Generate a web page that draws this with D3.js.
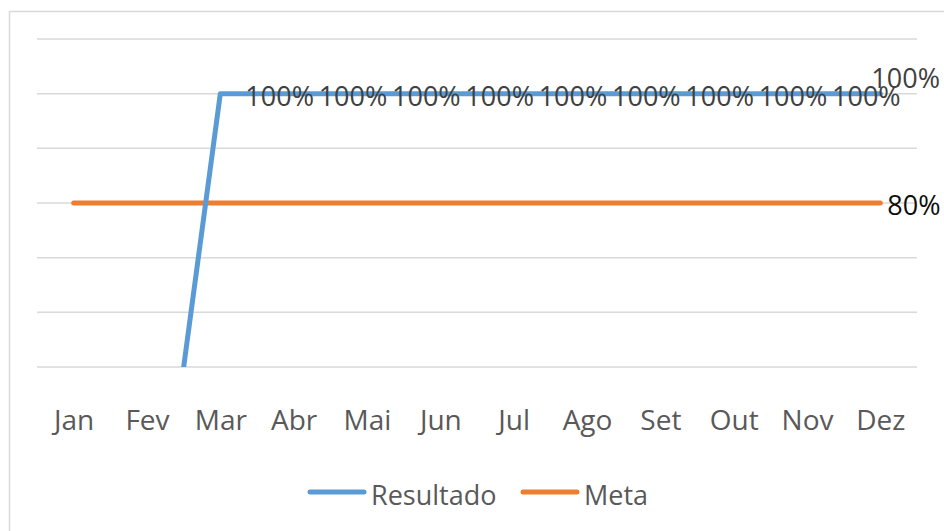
<!DOCTYPE html>
<html>
<head>
<meta charset="utf-8">
<script src="https://cdn.jsdelivr.net/npm/d3@7"></script>
<style>
    body { margin: 0; background: #fff; }
    svg { display: block; }
    text { font-family: "Open Sans", sans-serif; }
</style>
</head>
<body>
<div id="chart"></div>
<script>
// dados do grafico
const months = ['Jan', 'Fev', 'Mar', 'Abr', 'Mai', 'Jun', 'Jul', 'Ago', 'Set', 'Out', 'Nov', 'Dez'];
const resultado = [0, 0, 1, 1, 1, 1, 1, 1, 1, 1, 1, 1];
const meta = [0.8, 0.8, 0.8, 0.8, 0.8, 0.8, 0.8, 0.8, 0.8, 0.8, 0.8, 0.8];
const yTicks = [0.5, 0.6, 0.7, 0.8, 0.9, 1.0, 1.1];

const width = 944;
const height = 531;
const plot = {left: 37, right: 917, top: 39, bottom: 367};

const svg = d3.select('#chart')
    .append('svg')
    .attr('width', width)
    .attr('height', height);

// moldura
svg.append('rect')
    .attr('x', 9.5).attr('y', 11.5)
    .attr('width', 960).attr('height', 560)
    .attr('fill', 'none')
    .attr('stroke', '#d9d9d9')
    .attr('stroke-width', 1.5);

const x = d3.scalePoint()
    .domain(months)
    .range([plot.left, plot.right])
    .padding(0.5);

const y = d3.scaleLinear()
    .domain([0.5, 1.1])
    .range([plot.bottom, plot.top]);

// gridlines
svg.append('g')
    .selectAll('line')
    .data(yTicks)
    .enter()
    .append('line')
    .attr('x1', plot.left).attr('x2', plot.right)
    .attr('y1', d => y(d)).attr('y2', d => y(d))
    .attr('stroke', '#d9d9d9')
    .attr('stroke-width', 1.5);

// eixo x
const xAxis = svg.append('g')
    .attr('transform', `translate(0, ${plot.bottom})`)
    .call(d3.axisBottom(x).tickSize(0).tickPadding(43));
xAxis.select('.domain').remove();
xAxis.selectAll('text')
    .attr('fill', '#595959')
    .style('font-size', '28px');

svg.append('clipPath')
    .attr('id', 'plot-clip')
    .append('rect')
    .attr('x', 0).attr('y', 0)
    .attr('width', width).attr('height', plot.bottom);

const line = d3.line()
    .x((d, i) => x(months[i]))
    .y(d => y(d));

const series = [
    {name: 'Meta', values: meta, color: '#ed7d31'},
    {name: 'Resultado', values: resultado, color: '#5b9bd5'}
];

svg.append('g')
    .attr('clip-path', 'url(#plot-clip)')
    .selectAll('path')
    .data(series)
    .enter()
    .append('path')
    .attr('d', d => line(d.values))
    .attr('fill', 'none')
    .attr('stroke', d => d.color)
    .attr('stroke-width', 5)
    .attr('stroke-linecap', 'round')
    .attr('stroke-linejoin', 'round');

// rotulos de dados - Resultado (so os que estao dentro da escala)
const fmt = d3.format('.0%');
svg.append('g')
    .selectAll('text')
    .data(resultado.map((v, i) => ({v, i})).filter(d => d.v >= 0.5))
    .enter()
    .append('text')
    .attr('x', d => d.i === months.length - 1 ? x(months[d.i]) - 9 : x(months[d.i]) + 25)
    .attr('y', d => d.i === months.length - 1 ? y(d.v) - 16 : y(d.v) + 2)
    .attr('dominant-baseline', 'central')
    .attr('fill', '#404040')
    .style('font-size', '27px')
    .text(d => fmt(d.v));

// rotulo Meta (ultimo ponto)
const last = months.length - 1;
svg.append('text')
    .attr('x', x(months[last]) + 7)
    .attr('y', y(meta[last]) + 1)
    .attr('dominant-baseline', 'central')
    .attr('fill', '#0d0d0d')
    .style('font-size', '27px')
    .text(fmt(meta[last]));

// legenda
const legendItems = [
    {name: 'Resultado', color: '#5b9bd5', x: 310},
    {name: 'Meta', color: '#ed7d31', x: 523}
];
const legend = svg.append('g')
    .selectAll('g')
    .data(legendItems)
    .enter()
    .append('g')
    .attr('transform', d => `translate(${d.x}, 492)`);

legend.append('line')
    .attr('x1', 0).attr('x2', 54)
    .attr('stroke', d => d.color)
    .attr('stroke-width', 5)
    .attr('stroke-linecap', 'round');

legend.append('text')
    .attr('x', 61)
    .attr('y', 2)
    .attr('dominant-baseline', 'central')
    .attr('fill', '#595959')
    .style('font-size', '27px')
    .text(d => d.name);
</script>
</body>
</html>
